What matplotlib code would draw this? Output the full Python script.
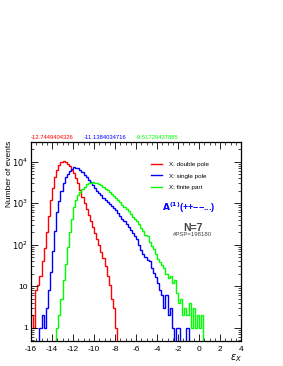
import numpy as np
import matplotlib
matplotlib.use('Agg')
import matplotlib.pyplot as plt
from matplotlib.ticker import FixedLocator, NullFormatter

plt.rcParams['font.family'] = ['Liberation Sans', 'DejaVu Sans']

# bins of 0.2 over [-16, 4]
BIN_W = 0.2
X_MIN, X_MAX = -16.0, 4.0

# X: double pole (starts at -16.0)
red_start = -16.0
red_counts = [2, 1, 8, 11, 18, 40, 85, 200, 500, 1200,
              2300, 4200, 6500, 8600, 10000, 10500, 9900, 8900, 7800, 6500,
              5300, 4100, 3000, 2100, 1400, 1000, 720, 520, 370, 270,
              195, 140, 100, 68, 48, 30, 18, 11, 5, 3,
              1]

# X: single pole (starts at -15.2)
blue_start = -15.2
blue_counts = [1, 2, 1, 3, 8, 22, 70, 220, 600, 1150,
               2000, 3100, 4200, 5100, 6000, 6800, 7300, 7200, 6900, 6300,
               5600, 4900, 4300, 3700, 3200, 2750, 2350, 2000, 1750, 1550,
               1350, 1200, 1080, 970, 860, 780, 680, 590, 500, 430,
               370, 310, 270, 230, 190, 160, 135, 100, 75, 60,
               50, 42, 40, 28, 21, 17, 12, 8, 6, 3,
               6, 2, 3, 1, 0, 1, 1, 0, 0, 0,
               1]

# X: finite part (starts at -13.6)
green_start = -13.6
green_counts = [1, 2, 5, 14, 35, 90, 200, 420, 800, 1200,
                1600, 1900, 2200, 2500, 2850, 3050, 3150, 3200, 3150, 3050,
                2900, 2700, 2450, 2250, 2050, 1850, 1700, 1500, 1320, 1180,
                1050, 930, 820, 720, 640, 560, 480, 420, 380, 310,
                260, 210, 170, 160, 120, 95, 80, 60, 45, 38,
                32, 28, 20, 16, 18, 12, 14, 7, 4, 5,
                2, 3, 2, 4, 1, 3, 1, 2, 1, 2]

means = ['-12.7449404326', '-11.1384034716', '-9.51729437885']
labels = ['X: double pole', 'X: single pole', 'X: finite part']
colors = ['#ff0000', '#0000ff', '#00ff00']

Y_MIN, Y_MAX = 0.48, 3.0e4


def full_hist(start, counts):
    n = int(round((X_MAX - X_MIN) / BIN_W))
    vals = np.zeros(n)
    i0 = int(round((start - X_MIN) / BIN_W))
    vals[i0:i0 + len(counts)] = counts
    return vals


fig = plt.figure(figsize=(2.83, 3.66), dpi=100)
ax = fig.add_axes([31 / 283, 25 / 366, 210 / 283, 199 / 366])

edges = np.linspace(X_MIN, X_MAX, int(round((X_MAX - X_MIN) / BIN_W)) + 1)
series = [(red_start, red_counts), (blue_start, blue_counts), (green_start, green_counts)]
for (start, counts), col, lab in zip(series, colors, labels):
    vals = full_hist(start, counts)
    vals = np.where(vals > 0, vals, Y_MIN * 0.9)
    ax.stairs(vals, edges, color=col, lw=1.0, label=lab, baseline=None)

ax.set_xlim(X_MIN, X_MAX)
ax.set_yscale('log')
ax.set_ylim(Y_MIN, Y_MAX)

# ticks, ROOT style
ax.set_xticks(np.arange(-16, 5, 2))
ax.set_xticklabels([str(v) for v in range(-16, 5, 2)])
ax.xaxis.set_minor_locator(FixedLocator(np.arange(-16, 4.01, 0.5)))
ax.set_yticks([1, 10, 100, 1000, 10000])
ax.set_yticklabels(['1', '10', r'$10^2$', r'$10^3$', r'$10^4$'])
ax.yaxis.set_minor_formatter(NullFormatter())
ax.tick_params(which='both', direction='in', top=True, right=True, labelsize=6)
ax.tick_params(axis='y', which='major', pad=2)
ax.tick_params(which='major', length=5, width=0.6)
ax.tick_params(which='minor', length=2.5, width=0.5)
for s in ax.spines.values():
    s.set_linewidth(0.9)

ax.text(-0.1, 1.005, 'Number of events', transform=ax.transAxes, rotation=90,
        ha='center', va='top', fontsize=6)
ax.text(0.976, -0.085, r'$\varepsilon_X$', transform=ax.transAxes, ha='center', va='center', fontsize=7)

# means above the frame
for i, (m, col) in enumerate(zip(means, colors)):
    ax.text(0.0 + i * 0.25, 1.012, m, transform=ax.transAxes, color=col,
            fontsize=4.2, ha='left', va='bottom')

leg = ax.legend(loc='upper left', bbox_to_anchor=(0.545, 0.93), frameon=False,
                fontsize=4.5, handlelength=1.8, handletextpad=1.0, labelspacing=1.0)

ax.text(0.752, 0.668, r'$\mathbf{A^{(1)}}$(++−−...)', transform=ax.transAxes, fontsize=6.5,
        color='#0000ff', fontweight='bold', ha='center', va='center')
ax.text(0.771, 0.57, 'N=7', transform=ax.transAxes, fontsize=7.5, color='#444444',
        fontweight='bold', ha='center', va='center')
ax.text(0.771, 0.533, '#PSP=198180', transform=ax.transAxes, fontsize=4.3, color='#444444',
        ha='center', va='center')

fig.savefig('out.png', dpi=100, facecolor='white')
